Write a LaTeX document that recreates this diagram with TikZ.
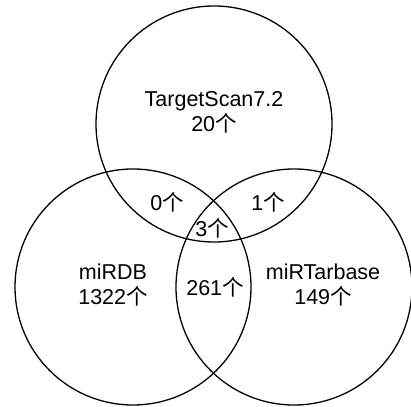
\documentclass[tikz,border=0pt]{standalone}
\usepackage{fontspec}
\setmainfont{Liberation Sans}
\newfontfamily\cjk{Noto Sans CJK SC}
\newcommand{\gewd}{{\cjk 个}}

\begin{document}
\begin{tikzpicture}[x=1pt, y=1pt,
    setcircle/.style={draw, line width=1.3pt, circle, minimum size=236pt, inner sep=0pt},
    setlabel/.style={align=center, inner sep=0pt, font=\fontsize{21.5}{25}\selectfont}]

    \useasboundingbox (0,0) rectangle (411,406);

    % the three sets
    \node[setcircle] (ts) at (214,282) {};
    \node[setcircle] (db) at (133,119) {};
    \node[setcircle] (tb) at (294,119) {};

    % only one set
    \node[setlabel] (tsonly) at (214,294) {TargetScan7.2\\20\gewd};
    \node[setlabel] (dbonly) at (113,121) {miRDB\\1322\gewd};
    \node[setlabel] (tbonly) at (323,121) {miRTarbase\\149\gewd};

    % overlaps
    \node[setlabel] (tsdb) at (167,204) {0\gewd};
    \node[setlabel] (tstb) at (268,204) {1\gewd};
    \node[setlabel] (all) at (212,178) {3\gewd};
    \node[setlabel] (dbtb) at (215,119) {261\gewd};

\end{tikzpicture}
\end{document}
